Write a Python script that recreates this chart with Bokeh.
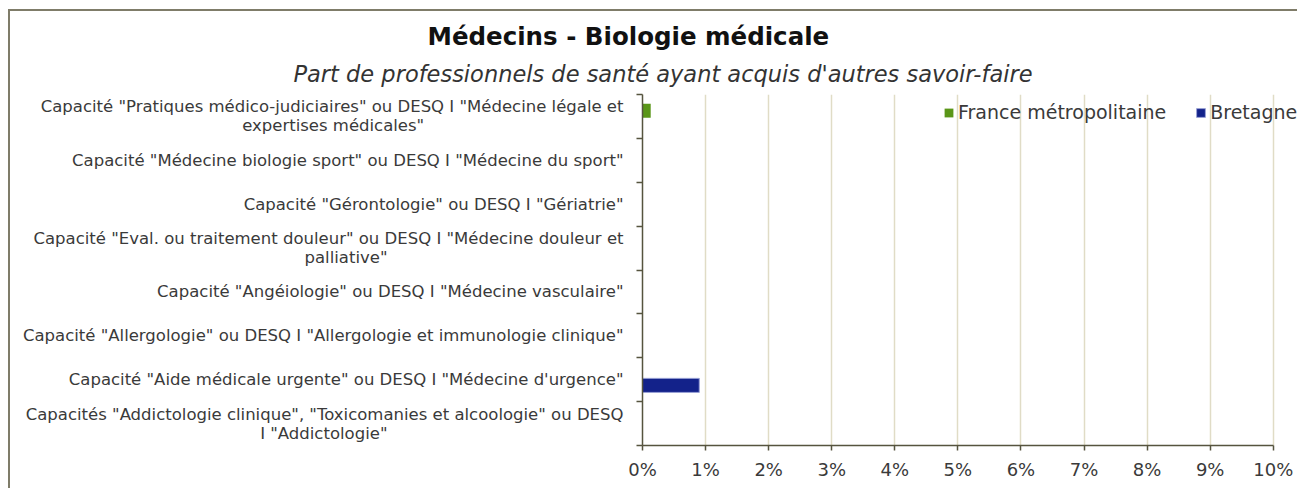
from bokeh.plotting import figure
from bokeh.models import (ColumnDataSource, Range1d, LinearAxis, FixedTicker, Title, Legend, LegendItem)
from bokeh.embed import file_html
from bokeh.resources import INLINE

# ---------------- data ----------------
categories = [
    'Capacité "Pratiques médico-judiciaires" ou DESQ I "Médecine légale et\nexpertises médicales"',
    'Capacité "Médecine biologie sport" ou DESQ I "Médecine du sport"',
    'Capacité "Gérontologie" ou DESQ I "Gériatrie"',
    'Capacité "Eval. ou traitement douleur" ou DESQ I "Médecine douleur et\npalliative"',
    'Capacité "Angéiologie" ou DESQ I "Médecine vasculaire"',
    'Capacité "Allergologie" ou DESQ I "Allergologie et immunologie clinique"',
    'Capacité "Aide médicale urgente" ou DESQ I "Médecine d\'urgence"',
    'Capacités "Addictologie clinique", "Toxicomanies et alcoologie" ou DESQ\nI "Addictologie"',
]
france = [0.13, 0, 0, 0, 0, 0, 0, 0]      # % France métropolitaine
bretagne = [0, 0, 0, 0, 0, 0, 0.9, 0]     # % Bretagne
x_ticks = list(range(0, 11))
x_tick_labels = [f"{t}%" for t in x_ticks]

title_text = "Médecins - Biologie médicale"
subtitle_text = "Part de professionnels de santé ayant acquis d'autres savoir-faire"
series_names = ["France métropolitaine", "Bretagne"]

# ---------------- style ----------------
FONT = "DejaVu Sans"
GREEN = "#5A9618"
BLUE = "#13228A"
AXIS = "#56543f"
GRID = "#e0dcc6"
TXT = "#3a3a3a"

n = len(categories)
centers = [n - i - 0.5 for i in range(n)]   # first category on top

# layout only: right-aligned label blocks whose 2nd line is centred under the 1st
NBSP_PAD = {0: 38, 3: 45, 7: 45}
def label_text(i, lab):
    lines = lab.split("\n")
    if len(lines) == 2:
        lines[1] = lines[1] + "\u00a0" * NBSP_PAD.get(i, 0)
    return "\n".join(lines)

p = figure(width=1289, height=479, output_backend="svg", toolbar_location=None,
           y_range=Range1d(0, n), x_range=Range1d(0, 10.4), y_axis_location=None,
           min_border_left=632, min_border_right=1, min_border_top=83, min_border_bottom=45)
p.styles = {"border-top": "2px solid #7f7c69", "border-left": "2px solid #7f7c69",
            "margin-left": "8px", "margin-top": "9px"}
p.outline_line_color = None
p.background_fill_color = "white"
p.border_fill_color = "white"

# titles (main title = figure title, subtitle as extra title)
p.title.text = title_text
p.title.align = "left"
p.title.offset = -215
p.title.standoff = 0
p.title.text_font = FONT
p.title.text_font_size = "24.5px"
p.title.text_font_style = "bold"
p.title.text_color = "#111111"
p.add_layout(Title(text=subtitle_text, align="left", offset=-349, text_font=FONT,
                   text_font_size="22.5px", text_font_style="italic", text_color="#333333",
                   standoff=16), "above")

# x axis
xa = p.xaxis[0]
xa.ticker = FixedTicker(ticks=x_ticks)
xa.major_label_overrides = {t: l for t, l in zip(x_ticks, x_tick_labels)}
xa.bounds = (x_ticks[0], x_ticks[-1])
xa.axis_line_color = AXIS
xa.axis_line_width = 1.5
xa.major_tick_line_color = AXIS
xa.major_tick_line_width = 1.5
xa.major_tick_in = 0
xa.major_tick_out = 5
xa.minor_tick_line_color = None
xa.major_label_text_font = FONT
xa.major_label_text_font_size = "18px"
xa.major_label_text_color = TXT
xa.major_label_standoff = 8

p.xgrid.grid_line_color = GRID
p.xgrid.grid_line_width = 1.5
p.ygrid.grid_line_color = None

# y axis: ticks at category boundaries, no labels
ytick_axis = LinearAxis(ticker=FixedTicker(ticks=list(range(n + 1))),
                        major_label_text_font_size="1px", major_label_text_color=None,
                        major_label_standoff=0,
                        axis_line_color=AXIS, axis_line_width=1.5,
                        major_tick_line_color=AXIS, major_tick_line_width=1.5,
                        major_tick_in=0, major_tick_out=6, minor_tick_line_color=None)
p.add_layout(ytick_axis, "left")

# category labels at category centres
ylab_axis = LinearAxis(ticker=FixedTicker(ticks=centers),
                       major_label_overrides={c: label_text(i, lab)
                                              for i, (c, lab) in enumerate(zip(centers, categories))},
                       axis_line_color=None, major_tick_line_color=None,
                       major_tick_in=0, major_tick_out=0, minor_tick_line_color=None,
                       major_label_text_font=FONT, major_label_text_font_size="16.5px",
                       major_label_text_color=TXT, major_label_standoff=13,
                       major_label_text_line_height=1.0)
p.add_layout(ylab_axis, "left")

# bars
src_f = ColumnDataSource(dict(y=[c + 0.13 for c, v in zip(centers, france) if v > 0],
                              val=[v for v in france if v > 0]))
src_b = ColumnDataSource(dict(y=[c - 0.13 for c, v in zip(centers, bretagne) if v > 0],
                              val=[v for v in bretagne if v > 0]))
r_f = p.hbar(y="y", left=0, right="val", height=0.32,
             source=src_f, fill_color=GREEN, line_color=None)
r_b = p.hbar(y="y", left=0, right="val", height=0.32,
             source=src_b, fill_color=BLUE, line_color="#9aa2d6", line_width=1)

legend = Legend(items=[LegendItem(label=series_names[0], renderers=[r_f]),
                       LegendItem(label=series_names[1], renderers=[r_b])],
                orientation="horizontal", location=(301, 322),
                glyph_width=11, glyph_height=11, label_standoff=4, spacing=29,
                padding=0, margin=0, border_line_color=None, background_fill_alpha=0,
                label_text_font=FONT, label_text_font_size="19px", label_text_color=TXT)
p.add_layout(legend, "center")

open("out.html", "w").write(file_html(p, INLINE))
